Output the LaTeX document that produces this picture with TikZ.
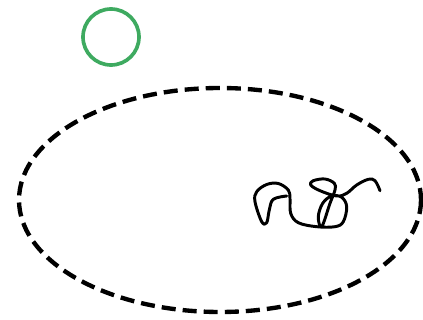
\documentclass[tikz,border=0pt]{standalone}
\usepackage{tikz}
\definecolor{ringgreen}{RGB}{62,170,96}
\tikzset{
  blob/.style={line width=3.1pt, dash pattern=on 10pt off 5pt},
  ring/.style={draw=ringgreen, line width=2.6pt},
  scribble/.style={line width=2.1pt, line join=round, line cap=round}
}
\begin{document}
\begin{tikzpicture}[x=0.025cm, y=-0.025cm]
    \useasboundingbox (0,0) rectangle (423,320);
    \coordinate (R) at (111,37);
    \coordinate (E) at (220,200);
    % green circle
    \draw[ring] (R) circle[radius=28];
    % dashed ellipse
    \draw[blob] (E) ellipse[x radius=201, y radius=112];
    % scribble
    \draw[scribble] plot[smooth, tension=0.6] coordinates {
        (286.7,196) (273.3,199.3) (269.3,210) (266.7,222.7) (261.7,221.7)
        (255,201.7) (256.7,191.7) (266.7,184.5) (278.3,183.5) (288.3,190)
        (290,198.3) (290.7,213.3) (298.3,222.7) (316.7,226.7) (335,226.7)
        (343.3,221.7) (346.7,206.7) (341.7,197.3) (331.7,196) (322.7,203.3)
        (318.3,216.7) (321.7,226.7) (330,203.3) (335,190) (334.3,183.3)
        (325,179) (313.3,180.7) (310.7,185) (320,190.7) (336.7,196)
        (346.7,193.3) (356.7,185) (368.3,179.3) (375,180.7) (380,190.7)};
\end{tikzpicture}
\end{document}
